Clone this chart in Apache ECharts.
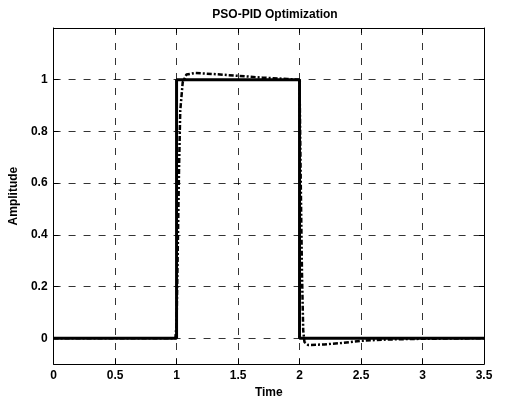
<!DOCTYPE html>
<html><head><meta charset="utf-8">
<script src="https://cdn.jsdelivr.net/npm/echarts@6/dist/echarts.min.js"></script>
<style>html,body{margin:0;padding:0;background:#fff}#c{width:507px;height:404px}</style>
</head><body><div id="c"></div>
<script>
const titleText = 'PSO-PID Optimization';
const xName = 'Time';
const yName = 'Amplitude';
const yTicks = [0, 0.2, 0.4, 0.6, 0.8, 1];
// reference (step input) signal
const refT = [0, 1, 1, 2, 2, 3.5];
const refY = [0, 0, 1, 1, 0, 0];
// PSO-PID response
const respT = [0, 0.99, 1.0, 1.01, 1.02, 1.03, 1.05, 1.08, 1.15, 1.3, 1.5, 1.7, 1.9, 2.0, 2.01, 2.02, 2.03, 2.04, 2.07, 2.2, 2.35, 2.5, 2.7, 3.0, 3.5];
const respY = [0, 0, 0.05, 0.35, 0.65, 0.88, 0.99, 1.02, 1.026, 1.022, 1.015, 1.008, 1.003, 1.0, 0.6, 0.25, 0.03, -0.015, -0.026, -0.024, -0.018, -0.01, -0.005, -0.002, 0];

const font = 'Liberation Sans, Arial, sans-serif';
const chart = echarts.init(document.getElementById('c'));
chart.setOption({
  animation: false,
  backgroundColor: '#fff',
  title: { text: titleText, left: 270, top: 4, textAlign: 'center',
    textStyle: { fontFamily: font, fontSize: 12, fontWeight: 'bold', color: '#000' } },
  grid: { left: 53, right: 23, top: 28, bottom: 37 },
  xAxis: [{
    type: 'value', min: 0, max: 3.5, interval: 0.5,
    name: xName, nameLocation: 'middle', nameGap: 22,
    nameTextStyle: { fontFamily: font, fontSize: 12, fontWeight: 'bold', color: '#000' },
    axisLine: { show: true, onZero: false, lineStyle: { color: '#000', width: 1 } },
    axisTick: { inside: true, length: 5, lineStyle: { color: '#000' } },
    axisLabel: { fontFamily: font, fontSize: 12, fontWeight: 'bold', color: '#000', margin: 6 },
    splitLine: { show: true, lineStyle: { color: '#000', width: 0.8, type: [7, 8] } }
  }, {
    type: 'value', min: 0, max: 3.5, interval: 0.5, position: 'top',
    axisLine: { show: true, onZero: false, lineStyle: { color: '#000', width: 1 } },
    axisTick: { inside: true, length: 5, lineStyle: { color: '#000' } },
    axisLabel: { show: false }, splitLine: { show: false }
  }],
  yAxis: [{
    type: 'value', min: -0.1, max: 1.2,
    name: yName, nameLocation: 'middle', nameGap: 32,
    nameTextStyle: { fontFamily: font, fontSize: 12, fontWeight: 'bold', color: '#000' },
    axisLine: { show: true, onZero: false, lineStyle: { color: '#000', width: 1 } },
    axisTick: { inside: true, length: 5, customValues: yTicks, lineStyle: { color: '#000' } },
    axisLabel: { customValues: yTicks, fontFamily: font, fontSize: 12, fontWeight: 'bold', color: '#000', margin: 6 },
    splitLine: { show: false }
  }, {
    type: 'value', min: -0.1, max: 1.2, position: 'right',
    axisLine: { show: true, onZero: false, lineStyle: { color: '#000', width: 1 } },
    axisTick: { inside: true, length: 5, customValues: yTicks, lineStyle: { color: '#000' } },
    axisLabel: { show: false }, splitLine: { show: false }
  }],
  series: [{
    type: 'line', xAxisIndex: 0, yAxisIndex: 0, symbol: 'none',
    data: refT.map((t, i) => [t, refY[i]]),
    lineStyle: { color: '#000', width: 3 },
    markLine: {
      silent: true, symbol: 'none', label: { show: false },
      lineStyle: { color: '#000', width: 0.8, type: [7, 8] },
      data: yTicks.map(v => ({ yAxis: v }))
    },
    z: 3
  }, {
    type: 'line', xAxisIndex: 0, yAxisIndex: 0, symbol: 'none',
    data: respT.map((t, i) => [t, respY[i]]),
    lineStyle: { color: '#000', width: 2.5, type: [5, 2, 2, 2] },
    z: 4
  }]
});
</script></body></html>
